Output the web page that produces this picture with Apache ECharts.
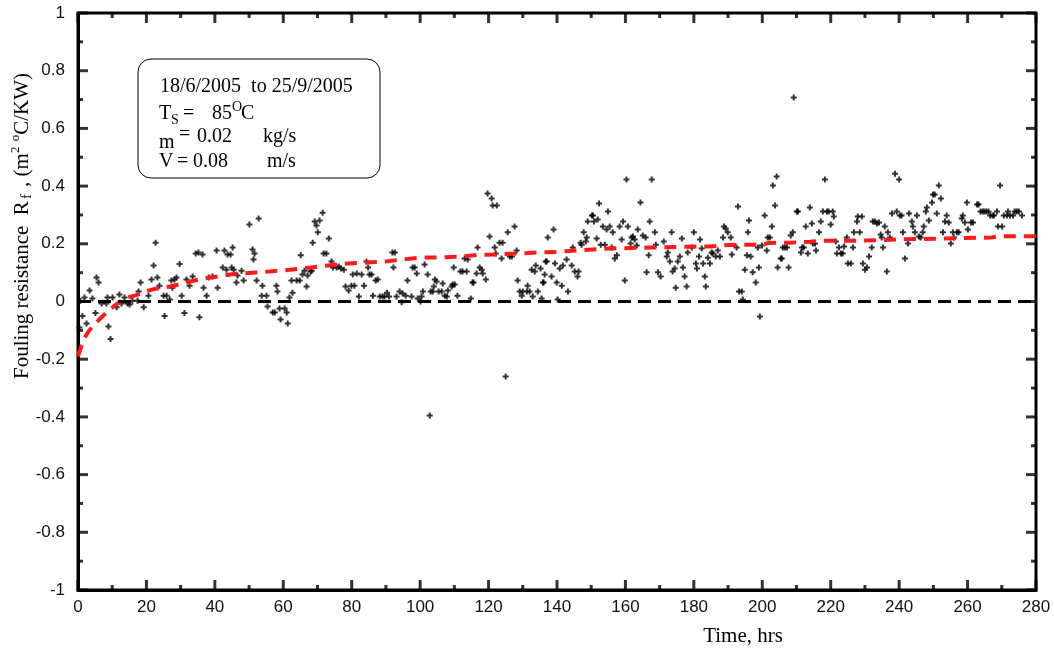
<!DOCTYPE html>
<html>
<head>
<meta charset="utf-8">
<script src="https://cdn.jsdelivr.net/npm/echarts@6/dist/echarts.min.js"></script>
<style>
  html, body { margin: 0; padding: 0; background: #fff; }
  #chart { width: 1054px; height: 649px; }
</style>
</head>
<body>
<div id="chart"></div>
<script>
// Measured fouling resistance (m2 °C/kW) against elapsed time (hours)
const hours = [
  0.4,0.7,1.3,1.9,2.5,3.4,4.2,5.1,5.4,6.0,6.9,8.3,8.6,8.9,9.5,10.1,11.3,12.1,12.7,13.6,
  14.5,15.1,15.9,17.4,17.7,18.3,19.2,20.6,21.5,22.1,22.7,23.2,23.8,25.0,25.3,25.9,26.8,27.3,27.6,28.2,
  28.8,29.7,30.3,31.1,31.7,32.6,33.5,34.4,35.2,35.5,36.4,36.7,37.6,38.2,39.3,40.5,40.8,42.3,42.8,43.4,
  43.7,44.6,44.9,45.2,45.5,46.3,46.6,47.8,48.4,50.1,51.0,51.3,51.6,52.2,52.8,53.7,53.9,55.1,55.4,56.9,
  57.5,58.0,58.3,58.9,59.2,60.4,61.0,61.3,61.8,62.4,62.7,63.9,64.8,65.1,65.6,66.2,66.8,67.1,68.0,68.3,
  68.6,69.2,69.7,70.1,70.6,71.5,71.8,72.6,73.3,74.1,74.5,75.6,76.2,76.9,77.7,78.2,79.1,79.9,80.3,80.8,
  81.5,82.1,82.9,83.6,84.3,84.8,85.2,85.8,86.2,87.0,87.6,88.2,89.0,89.6,90.3,90.9,91.9,92.2,92.6,93.1,
  94.0,94.6,94.9,95.8,96.3,97.5,97.8,98.4,99.0,99.3,100.1,100.4,100.8,101.3,102.2,102.8,103.1,103.7,104.0,104.3,
  104.8,105.4,106.3,106.6,107.2,107.8,108.1,109.2,109.5,109.8,110.1,110.9,111.8,112.4,113.0,113.6,113.9,114.8,115.3,115.6,
  116.5,116.8,117.4,118.0,118.3,119.2,119.7,120.3,120.9,121.2,121.8,122.1,122.4,123.2,123.8,124.1,125.0,125.6,126.2,126.8,
  127.6,128.2,128.5,129.1,129.7,130.0,131.2,131.4,132.0,132.6,132.9,133.5,133.8,134.4,135.2,135.5,135.9,136.1,136.4,136.7,
  137.0,137.3,138.4,139.0,139.4,139.9,140.2,140.8,141.4,141.7,142.8,143.2,144.3,144.6,145.2,146.0,146.3,146.9,147.2,147.8,
  148.4,148.7,149.0,150.2,150.5,150.8,151.6,151.9,152.3,152.8,153.4,154.0,154.5,154.9,155.4,156.0,156.3,156.9,157.5,158.3,
  158.9,159.3,159.8,160.3,160.7,161.5,161.8,162.2,162.7,163.3,163.6,164.4,165.1,165.9,166.2,166.8,167.1,167.7,168.6,168.9,
  169.5,170.3,171.2,172.1,172.4,173.0,173.5,173.8,174.4,174.7,175.3,175.9,176.5,176.8,177.3,177.9,178.2,179.4,180.0,180.6,
  180.9,181.5,181.8,182.3,182.7,183.2,183.5,184.1,184.7,185.2,185.5,186.4,187.0,187.6,188.5,188.8,189.3,189.9,190.8,191.1,
  192.5,192.9,193.2,194.0,194.3,194.9,195.5,195.8,196.1,196.6,197.2,198.1,198.7,199.0,199.3,199.9,200.7,201.3,201.6,202.2,
  202.8,203.1,203.7,204.2,204.5,205.4,205.7,206.0,206.6,207.2,207.7,208.3,208.9,209.2,210.1,210.4,211.3,211.6,212.1,212.7,
  213.3,213.9,214.5,214.8,215.4,215.7,216.6,217.1,217.7,218.3,218.9,219.4,220.0,220.6,220.9,221.5,221.8,222.4,223.0,223.5,
  223.9,224.7,225.0,225.9,226.5,226.8,227.7,227.9,228.5,229.1,229.4,230.0,230.6,231.2,232.0,232.3,232.9,233.5,234.1,234.6,
  234.9,235.3,235.8,236.4,236.7,237.3,237.9,238.8,239.3,240.0,240.2,240.7,241.1,241.7,242.6,242.9,243.7,244.0,244.6,245.2,
  245.8,246.3,246.9,247.2,247.8,248.1,248.7,249.6,249.9,250.4,251.0,251.6,252.2,252.8,253.4,253.9,254.5,255.1,255.7,256.0,
  256.9,257.4,258.3,258.6,259.2,259.8,260.1,261.0,261.6,262.8,263.2,263.8,264.4,264.9,265.5,266.1,266.6,267.3,267.7,268.6,
  268.9,269.5,270.1,270.6,271.5,271.8,272.4,273.3,273.8,274.4,275.0,275.9
];
const rf = [
  -0.09,0.003,-0.05,0.014,-0.076,0.038,0.01,-0.04,0.083,0.066,-0.007,-0.007,0.014,-0.087,-0.13,0.014,-0.02,0.024,-0.007,0.014,
  -0.007,-0.01,0.003,0.003,0.035,0.066,-0.02,0.02,0.076,0.125,0.204,0.083,0.055,0.02,-0.05,0.02,0.007,0.073,0.048,0.076,
  0.083,0.13,0.02,-0.04,0.076,0.055,0.087,0.166,0.17,-0.055,0.163,0.048,0.02,0.083,0.087,0.177,0.048,0.118,0.177,0.11,
  0.163,0.163,0.118,0.187,0.11,0.066,0.09,0.107,0.073,0.267,0.18,0.146,0.166,0.073,0.288,0.02,0.055,0.02,-0.017,-0.038,
  -0.038,0.055,0.035,-0.024,-0.062,-0.024,-0.038,-0.076,0.014,0.073,0.03,0.073,0.073,0.16,0.094,0.107,0.052,0.09,0.104,0.107,
  0.204,0.277,0.263,0.24,0.281,0.308,0.166,0.166,0.218,0.139,0.118,0.118,0.121,0.114,0.11,0.052,0.038,0.055,0.094,0.055,
  0.097,0.017,0.094,0.055,0.139,0.118,0.094,0.094,0.02,0.073,0.076,0.017,0.017,0.017,0.03,0.017,0.17,0.118,0.17,0.017,
  0.035,-0.003,0.028,0.02,0.073,0.017,0.118,0.118,0.097,0.01,0.0,0.017,0.035,0.128,0.094,-0.395,0.035,0.035,0.052,0.076,
  0.069,0.035,0.035,0.062,0.02,0.017,0.038,0.052,0.059,0.118,0.059,0.02,0.104,0.104,0.149,0.104,0.146,0.01,0.066,0.066,
  0.097,0.187,0.118,0.11,0.097,0.076,0.374,0.225,0.357,0.333,0.187,0.166,0.333,0.204,0.149,0.204,-0.26,0.24,0.156,0.156,
  0.26,0.177,0.073,0.035,0.02,0.035,0.035,0.055,0.035,0.11,0.017,0.104,0.125,0.035,0.114,0.01,0.066,0.066,0.094,0.139,
  0.139,0.222,0.087,0.25,0.132,0.066,0.007,0.114,0.055,0.125,0.146,0.035,0.125,0.187,0.104,0.087,0.104,0.204,0.197,0.24,
  0.208,0.222,0.277,0.298,0.298,0.277,0.218,0.284,0.34,0.197,0.26,0.197,0.25,0.312,0.26,0.187,0.24,0.149,0.16,0.26,
  0.215,0.277,0.073,0.423,0.26,0.201,0.222,0.225,0.215,0.194,0.25,0.343,0.229,0.222,0.101,0.16,0.277,0.423,0.24,0.197,
  0.101,0.087,0.208,0.156,0.17,0.139,0.24,0.104,0.114,0.048,0.139,0.156,0.218,0.118,0.087,0.052,0.17,0.187,0.24,0.132,
  0.114,0.156,0.215,0.184,0.132,0.087,0.052,0.152,0.132,0.17,0.166,0.156,0.177,0.156,0.222,0.26,0.253,0.24,0.222,0.163,
  0.187,0.329,0.035,0.035,0.007,0.11,0.16,0.24,0.281,0.156,0.101,0.066,0.187,0.118,-0.052,0.194,0.298,0.177,0.222,0.222,
  0.26,0.402,0.333,0.433,0.118,0.149,0.149,0.187,0.187,0.187,0.118,0.229,0.24,0.707,0.312,0.312,0.17,0.187,0.187,0.26,
  0.166,0.326,0.27,0.201,0.201,0.177,0.24,0.277,0.312,0.423,0.312,0.312,0.267,0.312,0.295,0.208,0.166,0.187,0.166,0.166,
  0.191,0.222,0.132,0.132,0.187,0.24,0.277,0.295,0.24,0.295,0.132,0.11,0.118,0.156,0.187,0.277,0.277,0.27,0.274,0.232,
  0.222,0.187,0.26,0.104,0.24,0.222,0.305,0.443,0.312,0.423,0.298,0.298,0.24,0.149,0.201,0.305,0.277,0.26,0.24,0.298,
  0.225,0.222,0.24,0.26,0.312,0.326,0.281,0.343,0.371,0.371,0.305,0.402,0.357,0.24,0.277,0.298,0.274,0.201,0.24,0.222,
  0.24,0.24,0.288,0.298,0.274,0.343,0.25,0.274,0.274,0.336,0.336,0.312,0.312,0.312,0.312,0.312,0.298,0.298,0.298,0.312,
  0.26,0.402,0.26,0.298,0.298,0.312,0.298,0.298,0.312,0.312,0.312,0.298
];

// Fitted asymptotic fouling curve
const fitHours = [0,1,2,3,4,6,9,11,13.5,17,20,23,27,31,36,41,46,51,56,62,68,73,78,84,90,95,100,106,112,117,
  122,128,134,140,146,156,167,178,185,190,200,202,208,214,217,229,240,251,264,267,269,280];
const fitRf = [-0.19,-0.155,-0.125,-0.105,-0.09,-0.065,-0.03,-0.012,0.01,0.022,0.036,0.045,0.052,0.064,0.078,0.087,0.096,0.1,0.104,0.11,
  0.118,0.125,0.131,0.135,0.139,0.146,0.152,0.153,0.156,0.162,0.163,0.166,0.17,0.172,0.177,0.184,0.187,0.19,0.191,0.196,
  0.197,0.203,0.204,0.207,0.211,0.211,0.215,0.218,0.221,0.222,0.226,0.226];

// Tick positions on the boxed frame
const xMajorTicks = [0,20,40,60,80,100,120,140,160,180,200,220,240,260,280];
const xMinorTicks = [10,30,50,70,90,110,130,150,170,190,210,230,250,270];
const yMajorTicks = [-1,-0.8,-0.6,-0.4,-0.2,0,0.2,0.4,0.6,0.8,1];
const yMinorTicks = [-0.9,-0.7,-0.5,-0.3,-0.1,0.1,0.3,0.5,0.7,0.9];

// Axis ranges
const xRange = { min: 0, max: 280, step: 20 };
const yRange = { min: -1, max: 1, step: 0.2 };

const SERIF = '"Liberation Serif", "DejaVu Serif", serif';
const SANS = '"Liberation Sans", Arial, sans-serif';
const MAJOR_LEN = 10, MINOR_LEN = 5, TICK_W = 3;

const scatterData = hours.map((h, i) => [h, rf[i]]);
const fitData = fitHours.map((h, i) => [h, fitRf[i]]);

function frameAxis(kind) {
  const r = kind === 'x' ? xRange : yRange;
  const ax = {
    type: 'value', min: r.min, max: r.max, interval: r.step,
    axisLine: { show: true, onZero: false, lineStyle: { color: '#000', width: 3 } },
    axisTick: { show: false },
    splitLine: { show: false },
    axisLabel: { fontFamily: SANS, fontSize: 17, color: '#111', margin: kind === 'x' ? 9 : 13 }
  };
  if (kind === 'y') ax.axisLabel.formatter = v => String(Math.round(v * 10) / 10);
  return ax;
}

// Inward frame ticks drawn as small bar symbols anchored on the frame edges
function tickSeries(data, size, offset) {
  return {
    type: 'scatter', data, symbol: 'rect', symbolSize: size, symbolOffset: offset,
    itemStyle: { color: '#000' }, clip: false, silent: true, z: 8,
    emphasis: { disabled: true }
  };
}
const tickSeriesList = [
  tickSeries(xMajorTicks.map(v => [v, yRange.min]), [TICK_W, MAJOR_LEN], [0, -MAJOR_LEN / 2]),
  tickSeries(xMinorTicks.map(v => [v, yRange.min]), [TICK_W, MINOR_LEN], [0, -MINOR_LEN / 2]),
  tickSeries(xMajorTicks.map(v => [v, yRange.max]), [TICK_W, MAJOR_LEN], [0, MAJOR_LEN / 2]),
  tickSeries(xMinorTicks.map(v => [v, yRange.max]), [TICK_W, MINOR_LEN], [0, MINOR_LEN / 2]),
  tickSeries(yMajorTicks.map(v => [xRange.min, v]), [MAJOR_LEN, TICK_W], [MAJOR_LEN / 2, 0]),
  tickSeries(yMinorTicks.map(v => [xRange.min, v]), [MINOR_LEN, TICK_W], [MINOR_LEN / 2, 0]),
  tickSeries(yMajorTicks.map(v => [xRange.max, v]), [MAJOR_LEN, TICK_W], [-MAJOR_LEN / 2, 0]),
  tickSeries(yMinorTicks.map(v => [xRange.max, v]), [MINOR_LEN, TICK_W], [-MINOR_LEN / 2, 0])
];

// Info box text pieces
function txt(text, x, y, size) {
  return {
    type: 'text', x, y, z: 20,
    style: { text, fontFamily: SERIF, fontSize: size || 20, fill: '#000', textAlign: 'left', textVerticalAlign: 'middle' }
  };
}

const chart = echarts.init(document.getElementById('chart'), null, { renderer: 'canvas' });
chart.setOption({
  animation: false,
  grid: { left: 78, right: 18, top: 13, bottom: 59, show: true, borderColor: '#000', borderWidth: 3, backgroundColor: 'transparent' },
  xAxis: frameAxis('x'),
  yAxis: frameAxis('y'),
  series: [
    {
      type: 'scatter',
      data: scatterData,
      symbol: 'path://M0,2H6V4H0Z M2,0H4V6H2Z',
      symbolSize: 6,
      itemStyle: { color: '#000' },
      markLine: {
        silent: true,
        symbol: ['none', 'none'],
        label: { show: false },
        lineStyle: { color: '#000', width: 3, type: [13, 7] },
        data: [{ yAxis: 0 }]
      }
    },
    {
      type: 'line',
      data: fitData,
      showSymbol: false,
      smooth: false,
      lineStyle: { color: '#ff1a1a', width: 4, type: [12, 8] }
    }
  ].concat(tickSeriesList),
  graphic: [
    {
      type: 'rect', z: 15,
      shape: { x: 138, y: 59, width: 242, height: 119, r: 13 },
      style: { fill: '#fff', stroke: '#000', lineWidth: 1 }
    },
    txt('18/6/2005  to 25/9/2005', 160, 87),
    txt('T', 159, 114), txt('S', 171, 120, 14), txt('=', 183, 114), txt('85', 212, 114),
    txt('O', 232, 107, 14), txt('C', 241, 114),
    txt('m', 159, 143), txt('=', 179, 135), txt('0.02', 197, 137), txt('kg/s', 263, 137),
    txt('V', 159, 162), txt('=', 177, 162), txt('0.08', 193, 162), txt('m/s', 267, 162),
    {
      type: 'text', x: 743, y: 636, z: 20,
      style: { text: 'Time, hrs', fontFamily: SERIF, fontSize: 21, fill: '#000', textAlign: 'center', textVerticalAlign: 'middle' }
    },
    {
      type: 'text', x: 22, y: 226, rotation: Math.PI / 2, z: 20,
      style: {
        text: '{a|Fouling resistance  R}{s|f}{a| , (m}{p|2}{a| }{p|o}{a|C/KW)}',
        textAlign: 'center', textVerticalAlign: 'middle', fill: '#000',
        rich: {
          a: { fontFamily: SERIF, fontSize: 21, lineHeight: 26, verticalAlign: 'middle' },
          s: { fontFamily: SERIF, fontSize: 15, lineHeight: 14, verticalAlign: 'bottom', padding: [0, 2, 0, 2] },
          p: { fontFamily: SERIF, fontSize: 13, lineHeight: 14, verticalAlign: 'top' }
        }
      }
    }
  ]
});
</script>
</body>
</html>
